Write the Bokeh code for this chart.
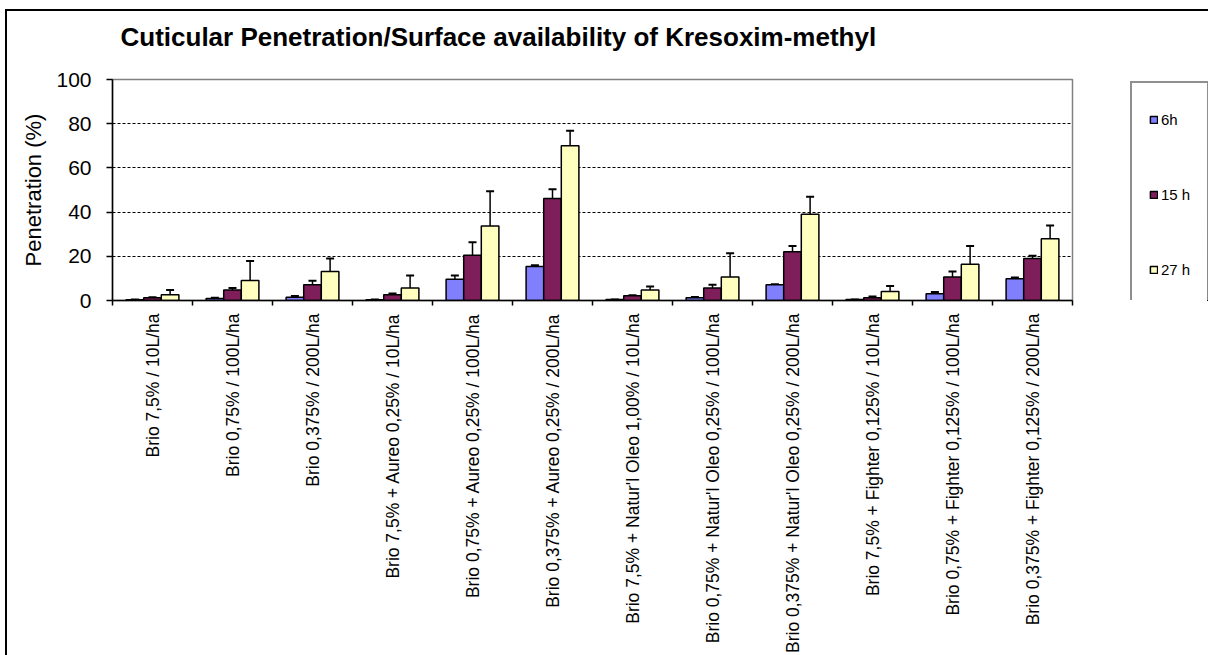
import math
import numpy as np
from bokeh.plotting import figure
from bokeh.layouts import row
from bokeh.models import (ColumnDataSource, FixedTicker, Range1d, Whisker, TeeHead,
                          Legend, LegendItem, Title)
from bokeh.transform import dodge
from bokeh.embed import file_html
from bokeh.resources import INLINE

categories = [
    "Brio 7,5% / 10L/ha",
    "Brio 0,75% / 100L/ha",
    "Brio 0,375% / 200L/ha",
    "Brio 7,5% + Aureo 0,25% / 10L/ha",
    "Brio 0,75% + Aureo 0,25% / 100L/ha",
    "Brio 0,375% + Aureo 0,25% / 200L/ha",
    "Brio 7,5% + Natur'l Oleo 1,00% / 10L/ha",
    "Brio 0,75% + Natur'l Oleo 0,25% / 100L/ha",
    "Brio 0,375% + Natur'l Oleo 0,25% / 200L/ha",
    "Brio 7,5% + Fighter 0,125% / 10L/ha",
    "Brio 0,75% + Fighter 0,125% / 100L/ha",
    "Brio 0,375% + Fighter 0,125% / 200L/ha",
]
series_names = ["6h", "15 h", "27 h"]
v6 = [0.3, 0.9, 1.5, 0.3, 9.6, 15.4, 0.4, 1.2, 7.1, 0.4, 3.0, 9.8]
e6 = [0.1, 0.4, 0.5, 0.1, 1.7, 0.6, 0.1, 0.4, 0.3, 0.1, 0.8, 0.6]
v15 = [1.2, 4.8, 7.1, 2.6, 20.5, 46.1, 2.1, 5.6, 22.1, 1.2, 10.6, 19.0]
e15 = [0.3, 0.8, 1.8, 0.6, 5.9, 4.2, 0.3, 1.5, 2.6, 0.6, 2.5, 1.3]
v27 = [2.6, 9.0, 13.1, 5.6, 33.7, 70.0, 4.8, 10.6, 39.0, 4.1, 16.4, 27.9]
e27 = [2.2, 8.9, 5.9, 5.7, 15.7, 6.8, 1.5, 10.8, 8.0, 2.5, 8.3, 6.0]
y_ticks = [0, 20, 40, 60, 80, 100]

colors = ["#8080FF", "#7E1F5C", "#FFFFC0"]
FONT = "Liberation Sans"

n = len(categories)
centers = np.arange(n) + 0.5
src = ColumnDataSource(dict(
    x=centers,
    v6=v6, v15=v15, v27=v27,
    u6=np.array(v6) + np.array(e6),
    u15=np.array(v15) + np.array(e15),
    u27=np.array(v27) + np.array(e27),
))

p = figure(width=1113, height=644, output_backend="svg", toolbar_location=None,
           x_range=Range1d(0, n), y_range=Range1d(0, 100), title=None,
           min_border_left=105, min_border_right=48, min_border_top=68,
           min_border_bottom=354)
p.background_fill_color = "white"
p.border_fill_color = "white"
p.outline_line_color = "#808080"
p.outline_line_width = 1.5

# spacer between plot area and title, then the title itself
p.add_layout(Title(text=" ", text_font_size="2px", standoff=22), "above")
p.add_layout(Title(text="Cuticular Penetration/Surface availability of Kresoxim-methyl",
                   align="left", vertical_align="top", offset=8, standoff=0,
                   text_font=FONT, text_font_size="26px", text_font_style="bold",
                   text_color="black"), "above")

offsets = [-0.22, 0.0, 0.22]
keys = ["6", "15", "27"]
for k, off, col in zip(keys, offsets, colors):
    p.vbar(x=dodge("x", off, range=p.x_range), top="v" + k, width=0.22,
           bottom=0, source=src, fill_color=col, line_color="black",
           line_width=1.5)
    w = Whisker(base=dodge("x", off, range=p.x_range), lower="v" + k, upper="u" + k,
                source=src, dimension="height", line_color="black", line_width=1.5,
                lower_head=None,
                upper_head=TeeHead(size=8, line_color="black", line_width=2))
    p.add_layout(w)

# axes
p.xaxis.ticker = FixedTicker(ticks=list(centers), minor_ticks=list(np.arange(n + 1)))
p.xaxis.major_label_overrides = {float(c): lab for c, lab in zip(centers, categories)}
p.xaxis.major_label_orientation = math.pi / 2
p.xaxis.major_tick_out = 0
p.xaxis.major_tick_in = 0
p.xaxis.minor_tick_out = 5
p.xaxis.minor_tick_in = 0
p.xaxis.minor_tick_line_color = "black"
p.xaxis.minor_tick_line_width = 1.5
p.xaxis.axis_line_color = "black"
p.xaxis.axis_line_width = 1.5
p.xaxis.major_label_standoff = 8
p.xaxis.major_label_text_font = FONT
p.xaxis.major_label_text_font_size = "17.5px"
p.xaxis.major_label_text_color = "black"

p.yaxis.ticker = FixedTicker(ticks=y_ticks)
p.yaxis.minor_tick_line_color = None
p.yaxis.major_tick_out = 6
p.yaxis.major_tick_in = 0
p.yaxis.major_tick_line_color = "black"
p.yaxis.major_tick_line_width = 1.5
p.yaxis.axis_line_color = "black"
p.yaxis.axis_line_width = 1.5
p.yaxis.major_label_standoff = 15
p.yaxis.major_label_text_font = FONT
p.yaxis.major_label_text_font_size = "21px"
p.yaxis.major_label_text_color = "black"
p.yaxis.axis_label = "Penetration (%)"
p.yaxis.axis_label_text_font = FONT
p.yaxis.axis_label_text_font_size = "22px"
p.yaxis.axis_label_text_font_style = "normal"
p.yaxis.axis_label_text_color = "black"
p.yaxis.axis_label_standoff = 7

p.xgrid.grid_line_color = None
p.ygrid.ticker = FixedTicker(ticks=[20, 40, 60, 80])
p.ygrid.grid_line_color = "black"
p.ygrid.grid_line_dash = "3 2"
p.ygrid.grid_line_width = 1.2

# legend panel (separate figure so the legend is not clipped by the plot area);
# its renderers use the same series but lie outside this panel's view
lg = figure(width=88, height=644, output_backend="svg", toolbar_location=None,
            x_axis_type=None, y_axis_type=None,
            min_border_left=8, min_border_right=0, min_border_top=67,
            min_border_bottom=330,
            x_range=Range1d(-3, -2), y_range=Range1d(0, 100))
lg.outline_line_color = None
lg.background_fill_color = "white"
lg.border_fill_color = "white"
lg.grid.grid_line_color = None
legend_renderers = [
    lg.vbar(x="x", top="v" + k, width=0.22, bottom=0, source=src,
            fill_color=col, line_color="black", line_width=1.5)
    for k, col in zip(keys, colors)
]
legend = Legend(items=[LegendItem(label=nm, renderers=[r])
                       for nm, r in zip(series_names, legend_renderers)],
                location="top_left", padding=17, margin=2, spacing=37,
                glyph_width=9, glyph_height=9, label_height=38, label_standoff=3,
                border_line_color="#202020", border_line_width=2,
                background_fill_color="white",
                label_text_font=FONT, label_text_font_size="15px",
                label_text_color="black")
lg.add_layout(legend, "center")

layout = row(p, lg, spacing=0)
layout.styles = {"border-left": "2px solid black", "border-top": "2px solid black",
                 "margin-left": "5px", "margin-top": "9px"}

open("out.html", "w").write(file_html(layout, INLINE))
